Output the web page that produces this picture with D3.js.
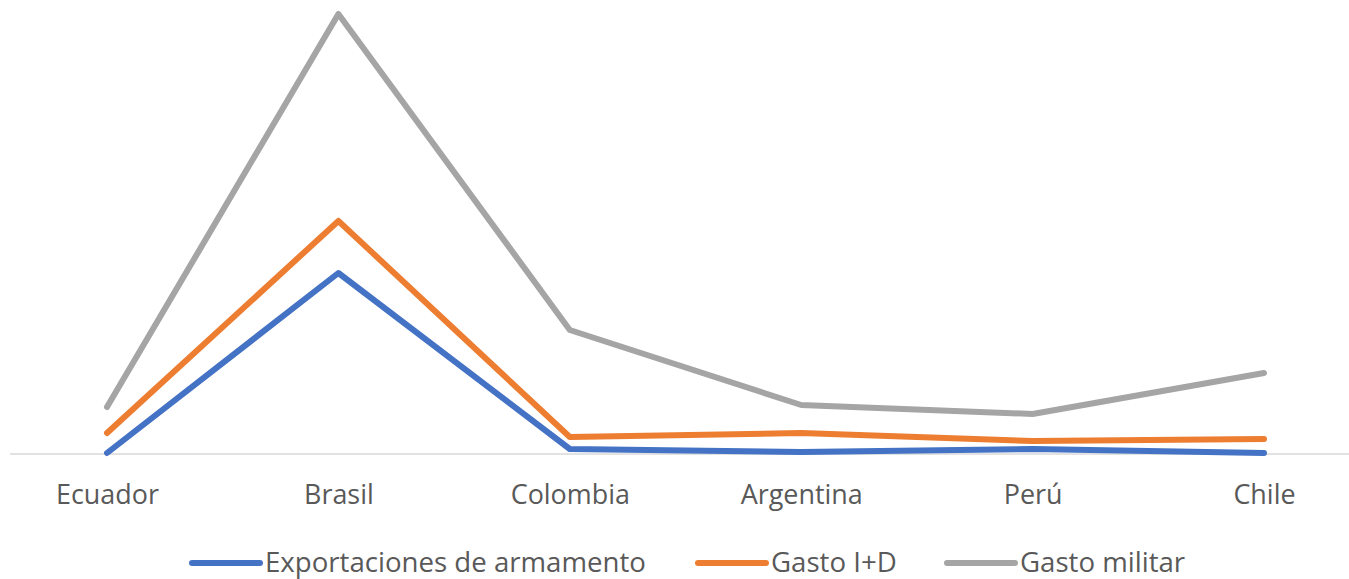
<!DOCTYPE html>
<html><head><meta charset="utf-8">
<script src="https://cdn.jsdelivr.net/npm/d3@7"></script>
<style>body{margin:0;background:#fff}svg{display:block}</style>
</head><body>
<script>
const categories = ["Ecuador","Brasil","Colombia","Argentina","Perú","Chile"];
const exportaciones = [1, 181, 5, 2, 5, 1];
const gastoID = [21, 233, 17, 21, 13, 15];
const gastoMilitar = [47, 440, 124, 49, 40, 81];
const seriesNames = ["Exportaciones de armamento","Gasto I+D","Gasto militar"];
const seriesColors = ["#4472C4","#ED7D31","#A5A5A5"];

const W = 1349, H = 579;
const FONT = "'Open Sans', 'Noto Sans', sans-serif";
const svg = d3.select("body").append("svg").attr("width", W).attr("height", H);

const x = d3.scalePoint().domain(categories).range([107, 1264]);
const y = d3.scaleLinear().domain([0, 440]).range([454, 14]);

// baseline axis
svg.append("line").attr("x1", 10).attr("x2", W).attr("y1", y(0)).attr("y2", y(0))
  .attr("stroke", "#d9d9d9").attr("stroke-width", 1.3);

// measure font sizes
function fit(txt, target) {
  const p = svg.append("text").attr("font-family", FONT).attr("font-size", 24).text(txt);
  const s = 24 * target / p.node().getComputedTextLength();
  p.remove();
  return s;
}
const fs = fit("Ecuador", 103);
const fsLeg = fit("Exportaciones de armamento", 381);

// category labels
const xAxis = d3.axisBottom(x).tickSize(0).tickPadding(0);
const gx = svg.append("g").attr("transform", `translate(0,${y(0)})`).call(xAxis);
gx.select(".domain").remove();
gx.selectAll("text").attr("font-family", FONT).attr("font-size", fs).attr("fill", "#595959")
  .attr("dy", null).attr("y", 50);

const data = [exportaciones, gastoID, gastoMilitar];
const line = d3.line().x((d, i) => x(categories[i])).y(d => y(d));
[2, 1, 0].forEach(k => {
  svg.append("path").datum(data[k]).attr("d", line).attr("fill", "none")
    .attr("stroke", seriesColors[k]).attr("stroke-width", 6)
    .attr("stroke-linejoin", "round").attr("stroke-linecap", "round");
});

// legend
const legX = [192, 698, 947];
const lg = svg.append("g");
seriesNames.forEach((n, i) => {
  lg.append("line").attr("x1", legX[i]).attr("x2", legX[i] + 68).attr("y1", 563).attr("y2", 563)
    .attr("stroke", seriesColors[i]).attr("stroke-width", 6).attr("stroke-linecap", "round");
  lg.append("text").attr("x", legX[i] + 73).attr("y", 572).attr("font-family", FONT)
    .attr("font-size", fsLeg).attr("fill", "#595959").text(n);
});
</script>
</body></html>
